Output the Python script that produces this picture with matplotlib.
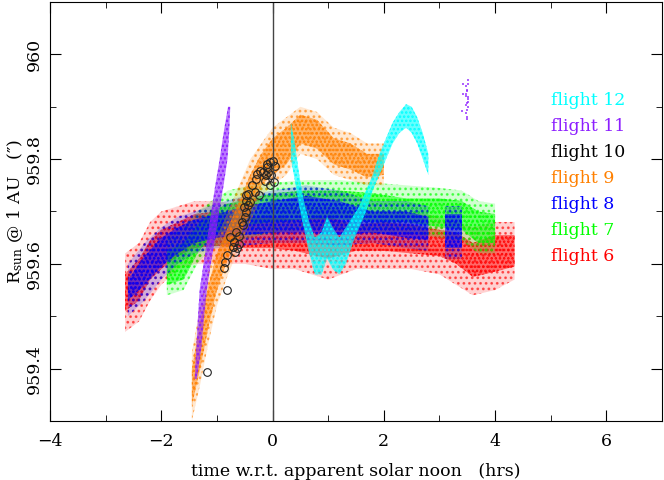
import numpy as np
import matplotlib
matplotlib.use("Agg")
import matplotlib.pyplot as plt
from matplotlib.ticker import MultipleLocator

# --- data (hours w.r.t. solar noon, arcsec) ---
# flight 6 (red): dense core and sparse outer envelope of the cloud
f6_t = [-2.65, -2.4, -2.2, -2.0, -1.7, -1.4, -1.0, -0.5, 0.0, 0.4, 1.0, 1.5, 2.0, 2.5, 3.0, 3.3, 3.6, 4.0, 4.35]
f6_lo = [959.51, 959.53, 959.57, 959.59, 959.615, 959.63, 959.635, 959.63, 959.63, 959.625, 959.61, 959.625,
         959.625, 959.62, 959.615, 959.60, 959.575, 959.585, 959.595]
f6_hi = [959.58, 959.61, 959.645, 959.665, 959.68, 959.695, 959.70, 959.69, 959.69, 959.685, 959.69, 959.675,
         959.68, 959.675, 959.665, 959.66, 959.64, 959.655, 959.655]
f6_out_lo = [959.47, 959.49, 959.53, 959.56, 959.59, 959.60, 959.60, 959.60, 959.59, 959.59, 959.57, 959.59,
             959.59, 959.59, 959.58, 959.56, 959.54, 959.55, 959.57]
f6_out_hi = [959.62, 959.64, 959.68, 959.70, 959.71, 959.72, 959.72, 959.71, 959.71, 959.71, 959.71, 959.70,
             959.70, 959.70, 959.69, 959.68, 959.67, 959.68, 959.68]

# flight 7 (green)
f7_t = [-1.9, -1.6, -1.35, -1.1, -0.8, -0.4, 0.0, 0.6, 1.2, 1.8, 2.4, 3.0, 3.4, 3.7, 4.0]
f7_lo = [959.56, 959.57, 959.62, 959.655, 959.665, 959.675, 959.68, 959.685, 959.685, 959.68, 959.68, 959.67,
         959.665, 959.64, 959.64]
f7_hi = [959.625, 959.64, 959.675, 959.70, 959.715, 959.725, 959.735, 959.74, 959.74, 959.735, 959.725, 959.725,
         959.72, 959.70, 959.695]
f7_out_lo = [959.54, 959.55, 959.60, 959.63, 959.64, 959.65, 959.66, 959.665, 959.665, 959.66, 959.66, 959.65,
             959.645, 959.62, 959.62]
f7_out_hi = [959.65, 959.67, 959.70, 959.72, 959.74, 959.75, 959.755, 959.76, 959.76, 959.755, 959.75, 959.745,
             959.74, 959.72, 959.715]

# flight 8 (blue), gap near 2.95 h
f8_t = [-2.6, -2.3, -2.0, -1.7, -1.4, -1.0, -0.5, 0.0, 0.6, 1.2, 1.8, 2.4, 2.8, 2.95, 3.1, 3.4]
f8_lo = [959.53, 959.56, 959.595, 959.62, 959.64, 959.65, 959.655, 959.66, 959.66, 959.655, 959.66, 959.65,
         959.645, np.nan, 959.63, 959.63]
f8_hi = [959.57, 959.615, 959.65, 959.67, 959.685, 959.695, 959.71, 959.72, 959.73, 959.72, 959.70, 959.70,
         959.69, np.nan, 959.695, 959.695]
f8_out_lo = [959.50, 959.53, 959.57, 959.60, 959.62, 959.63, 959.635, 959.64, 959.64, 959.635, 959.64, 959.63,
             959.625, np.nan, 959.61, 959.61]
f8_out_hi = [959.60, 959.64, 959.67, 959.69, 959.70, 959.715, 959.73, 959.74, 959.75, 959.74, 959.72, 959.72,
             959.71, np.nan, 959.71, 959.71]

# flight 9 (orange)
f9_t = [-1.45, -1.3, -1.15, -1.0, -0.8, -0.6, -0.4, -0.2, 0.0, 0.25, 0.5, 0.8, 1.1, 1.4, 1.7, 2.0]
f9_lo = [959.33, 959.40, 959.48, 959.55, 959.61, 959.65, 959.70, 959.75, 959.77, 959.79, 959.83, 959.82,
         959.79, 959.78, 959.765, 959.77]
f9_hi = [959.40, 959.49, 959.56, 959.62, 959.67, 959.72, 959.77, 959.81, 959.84, 959.86, 959.885, 959.875,
         959.84, 959.83, 959.81, 959.81]
f9_out_lo = [959.30, 959.37, 959.45, 959.52, 959.58, 959.63, 959.68, 959.73, 959.75, 959.77, 959.81, 959.80,
             959.77, 959.76, 959.75, 959.75]
f9_out_hi = [959.43, 959.52, 959.59, 959.65, 959.70, 959.75, 959.80, 959.83, 959.86, 959.88, 959.90, 959.89,
             959.86, 959.85, 959.83, 959.83]

# flight 10 (black circles)
f10_t = [-1.18, -0.81, -0.876, -0.846, -0.817, -0.715, -0.679, -0.637, -0.601, -0.697, -0.756, -0.601, -0.661,
         -0.53, -0.558, -0.487, -0.469, -0.517, -0.44, -0.397, -0.469, -0.481, -0.44, -0.314, -0.242, -0.368,
         -0.302, -0.271, -0.23, -0.171, -0.122, -0.081, -0.127, -0.05, 0.027, -0.092, -0.05, 0.009, 0.052,
         -0.02, -0.092]
f10_r = [959.393, 959.550, 959.593, 959.604, 959.617, 959.633, 959.623, 959.630, 959.638, 959.642, 959.652,
         959.653, 959.661, 959.674, 959.680, 959.690, 959.699, 959.709, 959.712, 959.718, 959.721, 959.731,
         959.734, 959.737, 959.732, 959.750, 959.763, 959.772, 959.777, 959.775, 959.769, 959.775, 959.759,
         959.750, 959.756, 959.785, 959.794, 959.796, 959.786, 959.769, 959.790]

# flight 11 (purple): steep streak, given as time range per radius
f11_r = [959.38, 959.44, 959.50, 959.55, 959.60, 959.65, 959.70, 959.75, 959.80, 959.85, 959.90]
f11_tlo = [-1.40, -1.37, -1.34, -1.31, -1.24, -1.17, -1.10, -1.03, -0.95, -0.88, -0.80]
f11_thi = [-1.36, -1.28, -1.23, -1.18, -1.11, -1.03, -0.96, -0.88, -0.81, -0.78, -0.76]
# flight 11 isolated points near 3.5 h
f11b_t = [3.52, 3.43, 3.51, 3.48, 3.49, 3.50, 3.47, 3.43, 3.48, 3.51, 3.52, 3.49, 3.47, 3.51, 3.40, 3.49,
          3.48, 3.50, 3.50, 3.52]
f11b_r = [959.951, 959.943, 959.943, 959.940, 959.932, 959.930, 959.924, 959.924, 959.921, 959.915, 959.910,
          959.907, 959.904, 959.899, 959.892, 959.894, 959.888, 959.880, 959.877, 959.918]

# flight 12 (cyan)
f12_t = [0.33, 0.40, 0.48, 0.56, 0.66, 0.76, 0.88, 0.98, 1.08, 1.2, 1.32, 1.44, 1.56, 1.68, 1.8, 1.92, 2.04,
         2.16, 2.28, 2.4, 2.5, 2.6, 2.7, 2.8]
f12_lo = [959.80, 959.76, 959.71, 959.67, 959.62, 959.58, 959.58, 959.61, 959.59, 959.58, 959.60, 959.64,
          959.67, 959.70, 959.74, 959.77, 959.80, 959.83, 959.85, 959.86, 959.85, 959.83, 959.80, 959.77]
f12_hi = [959.87, 959.83, 959.77, 959.72, 959.68, 959.65, 959.66, 959.69, 959.67, 959.65, 959.67, 959.69,
          959.71, 959.74, 959.77, 959.81, 959.84, 959.87, 959.89, 959.905, 959.90, 959.88, 959.85, 959.81]

labels = ["flight 12", "flight 11", "flight 10", "flight 9", "flight 8", "flight 7", "flight 6"]
label_colors = ["#00ffff", "#8c1eff", "black", "#ff8000", "#0000ff", "#00ff00", "#ff0000"]

plt.rcParams["font.family"] = "DejaVu Serif"
plt.rcParams["mathtext.fontset"] = "dejavuserif"
plt.rcParams["hatch.linewidth"] = 1.2

fig = plt.figure(figsize=(6.64, 4.8), dpi=100)
ax = fig.add_axes([50 / 664, 59 / 480, 612 / 664, 419 / 480])


def cloud(t, lo, hi, out_lo, out_hi, color):
    # sparse outskirts
    ax.fill_between(t, out_lo, out_hi, facecolor=color, alpha=0.18, linewidth=0)
    ax.fill_between(t, out_lo, out_hi, facecolor="none", edgecolor=color, hatch="...", linewidth=0, alpha=0.6)
    # dense core
    ax.fill_between(t, lo, hi, facecolor=color, alpha=0.5, linewidth=0)
    ax.fill_between(t, lo, hi, facecolor="none", edgecolor=color, hatch="....", linewidth=0)


cloud(f6_t, f6_lo, f6_hi, f6_out_lo, f6_out_hi, "#ff0000")
cloud(f7_t, f7_lo, f7_hi, f7_out_lo, f7_out_hi, "#00ff00")
cloud(f8_t, f8_lo, f8_hi, f8_out_lo, f8_out_hi, "#0000ff")
cloud(f9_t, f9_lo, f9_hi, f9_out_lo, f9_out_hi, "#ff8000")
ax.plot(f10_t, f10_r, "o", mfc="none", mec="#222222", ms=5.5, mew=0.8)
ax.fill_betweenx(f11_r, f11_tlo, f11_thi, facecolor="#8c1eff", alpha=0.6, linewidth=0)
ax.fill_betweenx(f11_r, f11_tlo, f11_thi, facecolor="none", edgecolor="#8c1eff", hatch="....", linewidth=0)
ax.plot(f11b_t, f11b_r, "s", color="#8c1eff", ms=1.5, alpha=0.7, mew=0)
ax.fill_between(f12_t, f12_lo, f12_hi, facecolor="#00ffff", alpha=0.6, linewidth=0)
ax.fill_between(f12_t, f12_lo, f12_hi, facecolor="none", edgecolor="#00ffff", hatch="....", linewidth=0)

ax.axvline(0, color="#444444", lw=1)

for i, (lab, col) in enumerate(zip(labels, label_colors)):
    ax.text(5.0, 959.911 - i * 0.0494, lab, color=col, fontsize=12.5, va="center", ha="left")

ax.set_xlim(-4, 7)
ax.set_ylim(959.3, 960.1)
ax.xaxis.set_major_locator(MultipleLocator(2))
ax.xaxis.set_minor_locator(MultipleLocator(1))
ax.set_yticks([959.4, 959.6, 959.8, 960.0])
ax.set_yticklabels(["959.4", "959.6", "959.8", "960"], rotation=90, va="center")
ax.yaxis.set_minor_locator(MultipleLocator(0.1))
ax.tick_params(which="both", direction="in", top=True, right=True, labelsize=12.5)
ax.tick_params(which="major", length=8)
ax.tick_params(which="minor", length=4)
ax.tick_params(axis="x", pad=9)
ax.tick_params(axis="y", pad=5)

ax.set_xlabel("time w.r.t. apparent solar noon   (hrs)", fontsize=12.5, labelpad=9)
ax.set_ylabel(r"R$_{\rm sun}$ @ 1 AU   (″)", fontsize=12.5, labelpad=1)

fig.savefig("out.png", dpi=100)
